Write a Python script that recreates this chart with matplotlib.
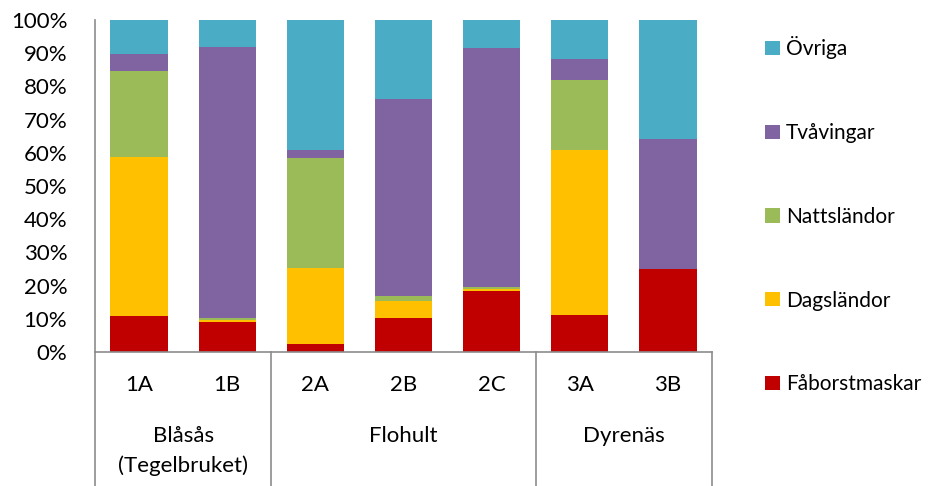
import matplotlib.pyplot as plt
from matplotlib.patches import Patch

plt.rcParams['font.family'] = ['Lato', 'DejaVu Sans']

# Data (share of each group, %)
stations = ['1A', '1B', '2A', '2B', '2C', '3A', '3B']
groups = ['Blåsås\n(Tegelbruket)', 'Flohult', 'Dyrenäs']
group_sizes = [2, 3, 2]

series = ['Fåborstmaskar', 'Dagsländor', 'Nattsländor', 'Tvåvingar', 'Övriga']
faborstmaskar = [10.7, 8.9, 2.3, 10.1, 18.4, 11.0, 25.0]
dagslandor = [47.9, 0.8, 23.1, 5.4, 0.5, 49.8, 0.0]
nattslandor = [26.1, 0.6, 32.9, 1.4, 0.7, 21.1, 0.0]
tvavingar = [5.2, 81.6, 2.5, 59.3, 72.0, 6.4, 39.3]
ovriga = [10.1, 8.1, 39.2, 23.8, 8.4, 11.7, 35.7]
colors = ['#C00000', '#FFC000', '#9BBB59', '#8064A2', '#4BACC6']

values = [faborstmaskar, dagslandor, nattslandor, tvavingar, ovriga]

FS = 16
W, H = 932, 486
fig = plt.figure(figsize=(W / 100, H / 100), dpi=100)
ax = fig.add_axes([95 / W, (H - 352) / H, 617 / W, 332 / H])

x = list(range(len(stations)))
bottom = [0.0] * len(stations)
for name, vals, col in zip(series, values, colors):
    ax.bar(x, vals, width=0.65, bottom=bottom, color=col, label=name, zorder=2)
    bottom = [b + v for b, v in zip(bottom, vals)]

ax.set_xlim(-0.5, len(stations) - 0.5)
ax.set_ylim(0, 100)
ax.set_yticks(range(0, 101, 10))
ax.set_yticklabels([f'{v}%' for v in range(0, 101, 10)], fontsize=FS)
ax.tick_params(axis='y', length=0, pad=20)
ax.set_xticks([])

for s in ['top', 'right']:
    ax.spines[s].set_visible(False)
for s in ['left', 'bottom']:
    ax.spines[s].set_color('#8C8C8C')
    ax.spines[s].set_linewidth(1.2)

# multi-level category axis
low = -134 / 332
edges = [-0.5]
for n in group_sizes:
    edges.append(edges[-1] + n)
for e in edges:
    ax.plot([e, e], [0, low], transform=ax.get_xaxis_transform(), color='#8C8C8C',
            lw=1.2, clip_on=False)

for xi, lab in zip(x, stations):
    ax.text(xi, -33 / 332, lab, transform=ax.get_xaxis_transform(), ha='center',
            va='center', fontsize=FS)

for i, g in enumerate(groups):
    cx = (edges[i] + edges[i + 1]) / 2
    ax.text(cx, -74 / 332, g, transform=ax.get_xaxis_transform(), ha='center',
            va='top', fontsize=FS, linespacing=1.55)

handles = [Patch(facecolor=c, label=n) for n, c in zip(series, colors)]
fig.legend(handles=handles[::-1], loc='upper left', bbox_to_anchor=(757 / W, 1 - 28 / H),
           frameon=False, fontsize=15, handlelength=0.68, handleheight=0.68,
           handletextpad=0.3, labelspacing=3.06, borderaxespad=0)

fig.savefig('out.png', dpi=100)
